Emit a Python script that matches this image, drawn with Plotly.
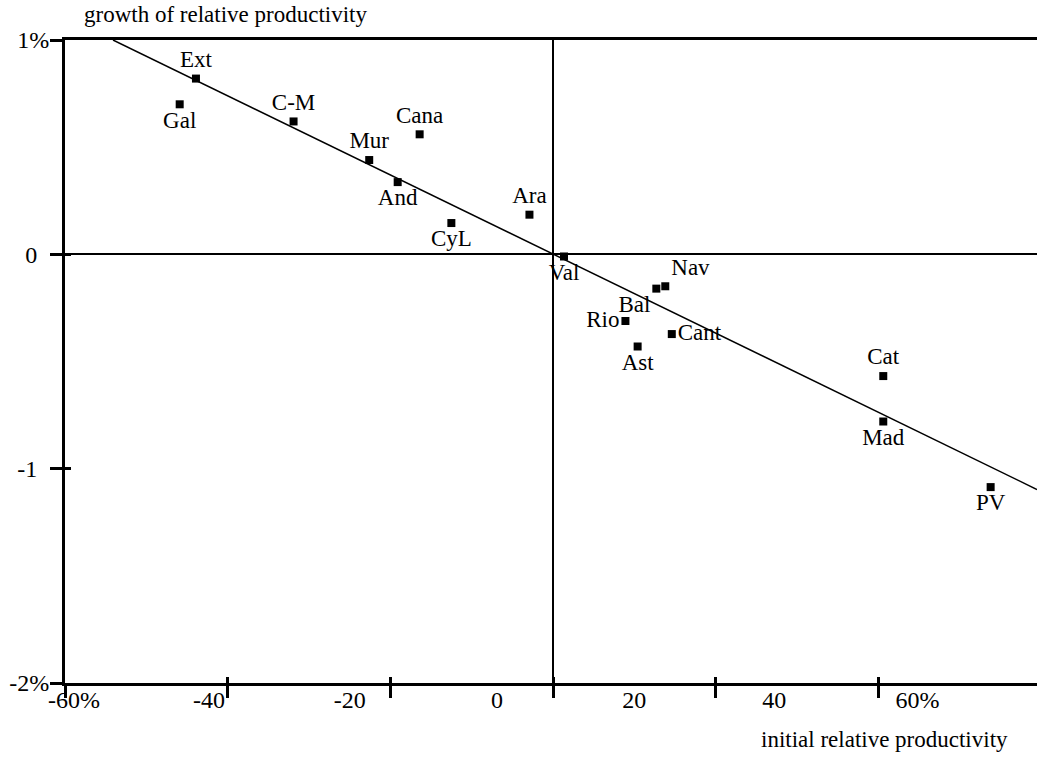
import plotly.graph_objects as go

# ---- data ----
regions = ["Ext", "Gal", "C-M", "Cana", "Mur", "And", "CyL", "Ara", "Val",
           "Bal", "Nav", "Rio", "Cant", "Ast", "Cat", "Mad", "PV"]
initial_rel_prod = [-43.9, -45.9, -31.9, -16.4, -22.6, -19.1, -12.5, -2.9, 1.35,
                    12.7, 13.8, 8.9, 14.6, 10.4, 40.6, 40.6, 53.8]
growth_rel_prod = [0.82, 0.70, 0.62, 0.56, 0.44, 0.337, 0.146, 0.185, -0.01,
                   -0.16, -0.149, -0.311, -0.372, -0.43, -0.568, -0.78, -1.086]

fit_x = [-54.1, 59.5]
fit_y = [1.0, -1.097]

x_tick_vals = [-60, -40, -20, 0, 20, 40]
x_label_vals = [-58.9, -42.3, -25.0, -6.9, 10.0, 27.2, 44.8]
x_label_text = ["-60%", "-40", "-20", "0", "20", "40", "60%"]
y_tick_vals = [-2, -1, 0, 1]
y_tick_text = ["-2%", "-1\u2007", "0\u2007", "1%"]

# ---- styles ----
label_pos = ["top center", "bottom center", "top center", "top center", "top center",
             "bottom center", "bottom center", "top center", "bottom center",
             "bottom left", "top right", "middle left", "middle right", "bottom center",
             "top center", "bottom center", "bottom center"]
FONT = "Liberation Serif, Times New Roman, serif"
X_RANGE = [-60, 59.5]
Y_RANGE = [-2, 1]

fig = go.Figure()

fig.add_trace(go.Scatter(
    x=fit_x, y=fit_y, mode="lines",
    line=dict(color="black", width=1.5),
    showlegend=False, hoverinfo="skip"))

fig.add_trace(go.Scatter(
    x=initial_rel_prod, y=growth_rel_prod, mode="markers+text",
    text=regions, textposition=label_pos,
    textfont=dict(family=FONT, size=23, color="black"),
    marker=dict(symbol="square", size=8, color="black"),
    showlegend=False, cliponaxis=False))

# invisible traces that hold the overlay axes
fig.add_trace(go.Scatter(x=[None], y=[None], xaxis="x2", yaxis="y2",
                         showlegend=False, hoverinfo="skip"))
fig.add_trace(go.Scatter(x=[None], y=[None], xaxis="x3", yaxis="y",
                         showlegend=False, hoverinfo="skip"))

fig.update_layout(
    width=1037, height=757,
    margin=dict(l=65, r=0, t=40, b=74),
    paper_bgcolor="white", plot_bgcolor="white",
    font=dict(family=FONT, color="black"),
    xaxis=dict(range=X_RANGE, tickvals=x_tick_vals, showticklabels=False,
               ticks="outside", ticklen=12, tickwidth=3, tickcolor="black",
               showline=True, linewidth=3, linecolor="black", mirror=True,
               showgrid=False, zeroline=True, zerolinewidth=2, zerolinecolor="black"),
    xaxis2=dict(range=X_RANGE, overlaying="x", anchor="y", side="bottom",
                tickvals=x_tick_vals, showticklabels=False,
                ticks="inside", ticklen=6, tickwidth=3, tickcolor="black",
                showline=False, showgrid=False, zeroline=False),
    xaxis3=dict(range=X_RANGE, overlaying="x", anchor="y", side="bottom",
                tickvals=x_label_vals, ticktext=x_label_text, ticks="",
                tickfont=dict(family=FONT, size=24, color="black"),
                ticklabelstandoff=0,
                showline=False, showgrid=False, zeroline=False),
    yaxis=dict(range=Y_RANGE, tickvals=y_tick_vals, ticktext=y_tick_text,
               tickfont=dict(family=FONT, size=24, color="black"),
               ticks="outside", ticklen=12, tickwidth=3, tickcolor="black",
               ticklabelstandoff=-4,
               showline=True, linewidth=3, linecolor="black",
               showgrid=False, zeroline=True, zerolinewidth=2, zerolinecolor="black"),
    yaxis2=dict(range=Y_RANGE, overlaying="y", anchor="x", side="left",
                tickvals=y_tick_vals, showticklabels=False,
                ticks="inside", ticklen=6, tickwidth=3, tickcolor="black",
                showline=False, showgrid=False, zeroline=False),
    annotations=[
        dict(text="growth of relative productivity", xref="paper", yref="paper",
             x=0.0175, y=1.0389, xanchor="left", yanchor="middle", showarrow=False,
             font=dict(family=FONT, size=23, color="black")),
        dict(text="initial relative productivity", xref="paper", yref="paper",
             x=0.714, y=-0.0886, xanchor="left", yanchor="middle", showarrow=False,
             font=dict(family=FONT, size=23, color="black")),
    ],
)

fig.write_html("out.html")
